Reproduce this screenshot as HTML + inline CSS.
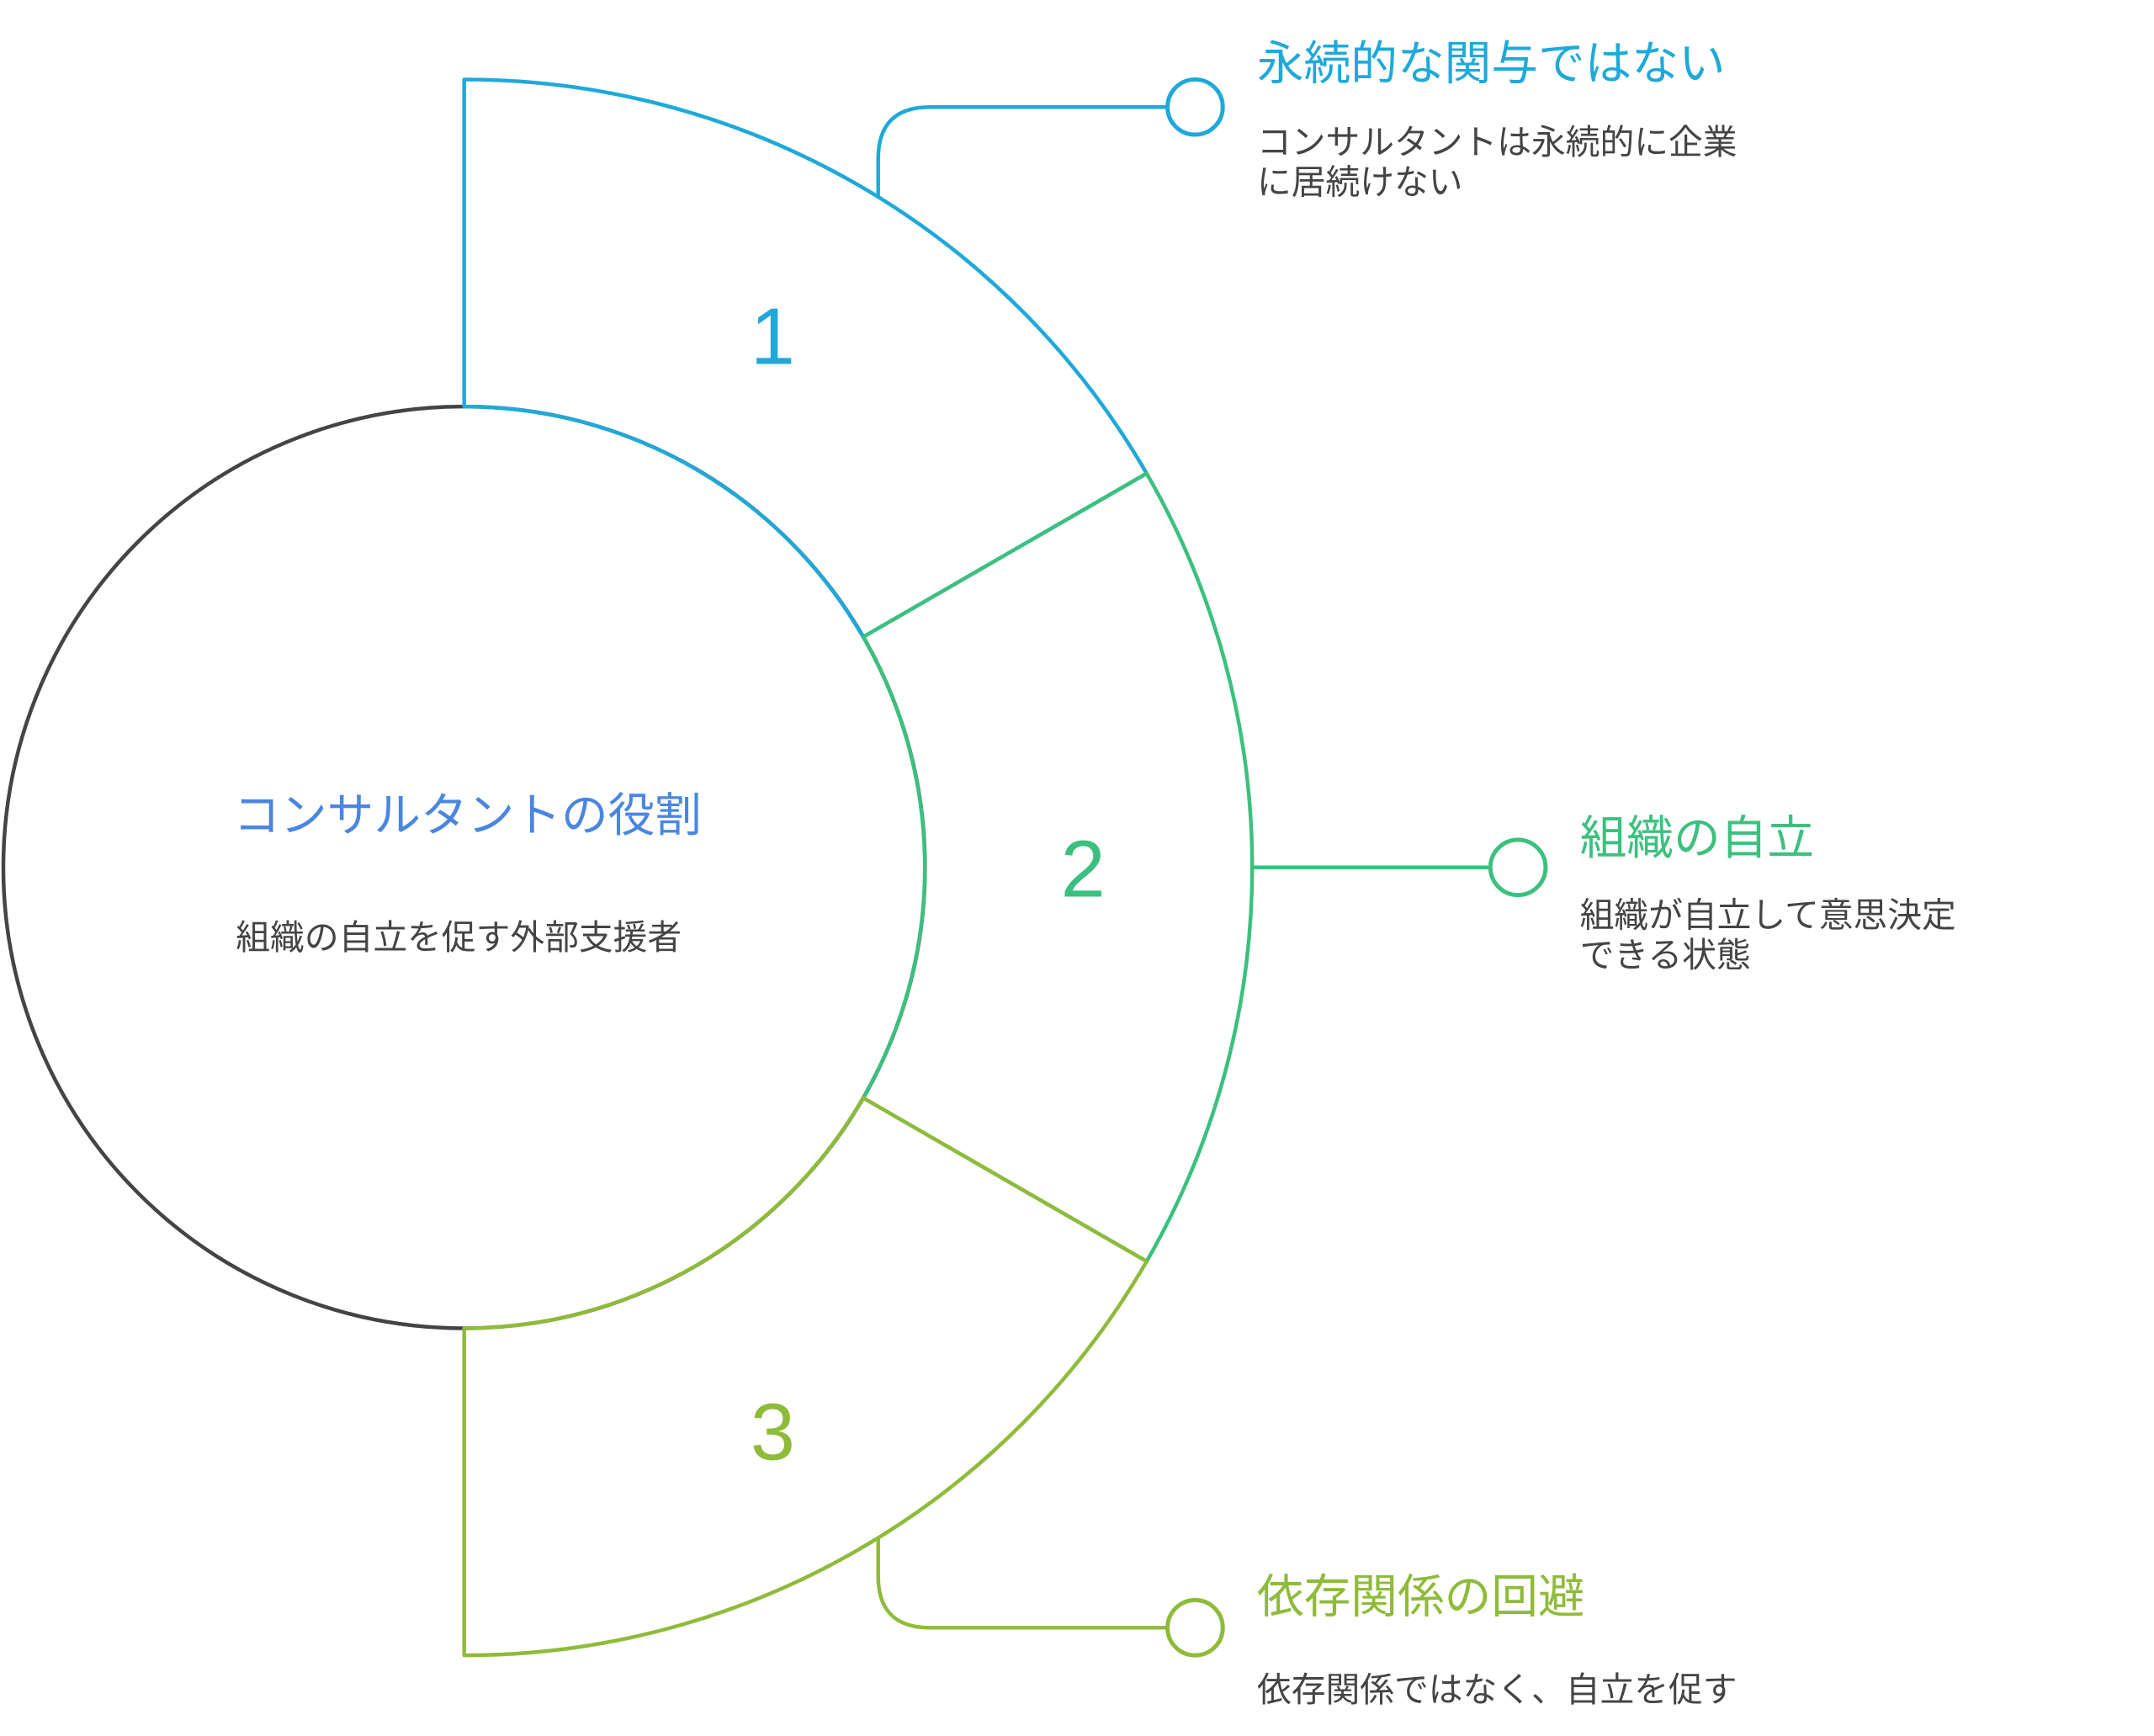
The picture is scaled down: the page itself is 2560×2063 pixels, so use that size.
<!DOCTYPE html>
<html><head><meta charset="utf-8">
<style>
html,body{margin:0;padding:0;background:#fff;}
body{width:2560px;height:2063px;position:relative;overflow:hidden;font-family:"Liberation Sans","Noto Sans CJK JP",sans-serif;}
#w{position:absolute;left:0;top:0;width:2560px;height:2063px;transform:scale(0.994);transform-origin:0 0;}
.t{position:absolute;white-space:nowrap;line-height:1.15;}
.h{font-size:56px;}
.d{font-size:41px;color:#444;line-height:48px;}
</style></head><body><div id="w">
<svg width="2560" height="2063" style="position:absolute;left:0;top:0" xmlns="http://www.w3.org/2000/svg">
<circle cx="555" cy="1037" r="551" fill="#fff" stroke="#444" stroke-width="4.5"/>
<path d="M555,95 A942,942 0 0 1 1371,566 L1032,761.5 A551,551 0 0 0 555,486 Z" fill="none" stroke="#1fa9d9" stroke-width="4.5" stroke-linejoin="round"/>
<path d="M1371,566 A942,942 0 0 1 1371,1508 L1032,1312.5 A551,551 0 0 0 1032,761.5 Z" fill="none" stroke="#3cc07f" stroke-width="4.5" stroke-linejoin="round"/>
<path d="M1371,1508 A942,942 0 0 1 555,1979 L555,1588 A551,551 0 0 0 1032,1312.5 Z" fill="none" stroke="#8fbb3a" stroke-width="4.5" stroke-linejoin="round"/>
<path d="M1050,236 L1050,190 Q1050,128 1112,128 L1396,128" fill="none" stroke="#1fa9d9" stroke-width="4.5"/>
<circle cx="1429" cy="128" r="33" fill="#fff" stroke="#1fa9d9" stroke-width="5"/>
<path d="M1497,1037 L1782,1037" fill="none" stroke="#3cc07f" stroke-width="4.5"/>
<circle cx="1815" cy="1037" r="33" fill="#fff" stroke="#3cc07f" stroke-width="5"/>
<path d="M1050,1838 L1050,1884 Q1050,1946 1112,1946 L1396,1946" fill="none" stroke="#8fbb3a" stroke-width="4.5"/>
<circle cx="1429" cy="1946" r="33" fill="#fff" stroke="#8fbb3a" stroke-width="5"/>
<text x="924" y="435" font-size="96" fill="#1fa9d9" text-anchor="middle" font-family="Liberation Sans, sans-serif">1</text>
<text x="1295" y="1072" font-size="96" fill="#3cc07f" text-anchor="middle" font-family="Liberation Sans, sans-serif">2</text>
<text x="924" y="1745" font-size="96" fill="#8fbb3a" text-anchor="middle" font-family="Liberation Sans, sans-serif">3</text>
</svg>
<div class="t h" style="left:1503px;top:44px;color:#1fa9d9">永続的な関与ではない</div>
<div class="t d" style="left:1503px;top:146px">コンサルタントは永続的に企業<br>に居続けない</div>
<div class="t h" style="left:1889px;top:970px;color:#3cc07f">組織の自立</div>
<div class="t d" style="left:1889px;top:1070px">組織が自立して意思決定<br>できる状態</div>
<div class="t h" style="left:1503px;top:1877px;color:#8fbb3a">依存関係の回避</div>
<div class="t d" style="left:1503px;top:1996px">依存関係ではなく、自立を促す</div>
<div class="t h" style="left:279px;top:943px;color:#4a86e0">コンサルタントの役割</div>
<div class="t d" style="left:282px;top:1097px">組織の自立を促す外部支援者</div>
</div></body></html>
